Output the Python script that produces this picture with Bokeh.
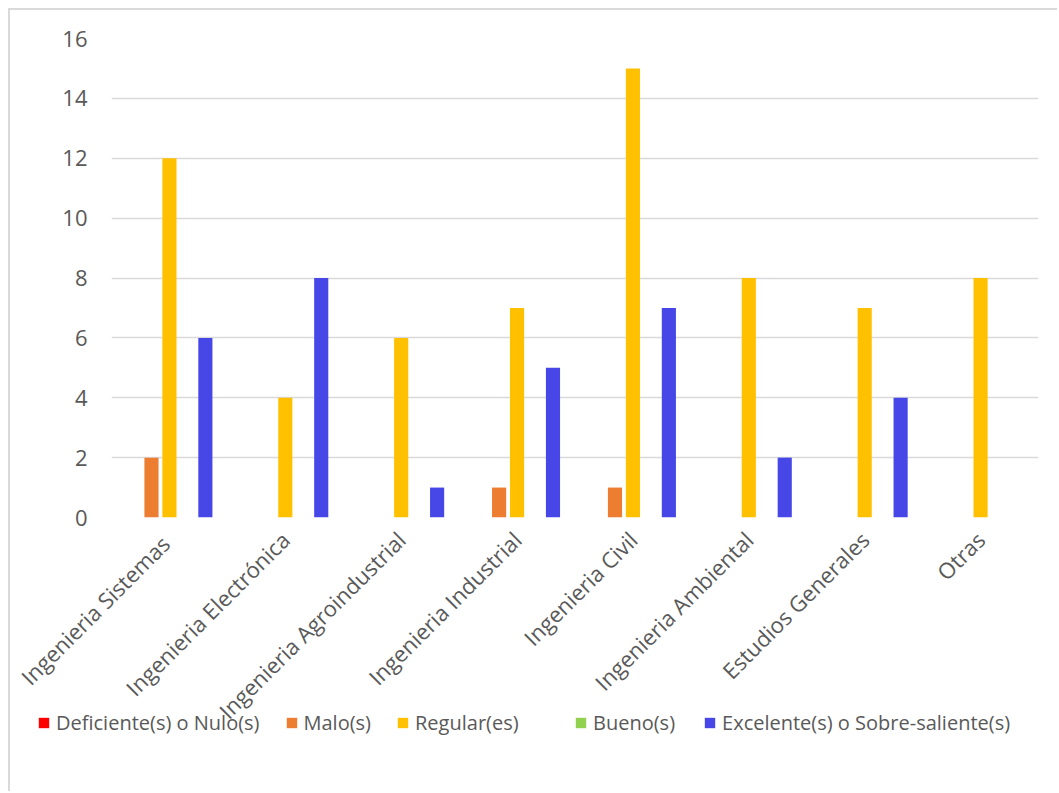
import math
from bokeh.plotting import figure
from bokeh.models import FactorRange, Range1d, Legend, LegendItem, ColumnDataSource, FixedTicker
from bokeh.transform import dodge
from bokeh.embed import file_html
from bokeh.resources import INLINE

categories = ["Ingenieria  Sistemas", "Ingenieria Electrónica", "Ingenieria Agroindustrial",
              "Ingenieria Industrial", "Ingenieria Civil", "Ingenieria Ambiental",
              "Estudios Generales", "Otras"]
deficiente = [0, 0, 0, 0, 0, 0, 0, 0]
malo = [2, 0, 0, 1, 1, 0, 0, 0]
regular = [12, 4, 6, 7, 15, 8, 7, 8]
bueno = [0, 0, 0, 0, 0, 0, 0, 0]
excelente = [6, 8, 1, 5, 7, 2, 4, 0]
series_names = ["Deficiente(s) o Nulo(s)", "Malo(s)", "Regular(es)", "Bueno(s)",
                "Excelente(s) o Sobre-saliente(s)"]
y_ticks = [0, 2, 4, 6, 8, 10, 12, 14, 16]

colors = ["#FF0000", "#ED7D31", "#FFC000", "#92D050", "#4747E8"]
FONT = "Open Sans"
TXT = "#595959"

src = ColumnDataSource(dict(cat=categories, d=deficiente, m=malo, r=regular, b=bueno, e=excelente))

p = figure(x_range=FactorRange(*categories, range_padding=0), y_range=Range1d(0, 16),
           width=1049, height=732, output_backend="svg", toolbar_location=None,
           min_border_left=101, min_border_right=21, min_border_top=28, min_border_bottom=225)
p.styles = {"margin-left": "8px", "margin-top": "8px",
            "border-left": "2px solid #D9D9D9", "border-top": "2px solid #D9D9D9"}
p.outline_line_color = None
p.background_fill_color = "white"
p.border_fill_color = "white"

step = 0.155
w = 0.122
cols = ["d", "m", "r", "b", "e"]
for i, col in enumerate(cols):
    p.vbar(x=dodge("cat", (i - 2) * step, range=p.x_range), top=col, width=w,
           source=src, fill_color=colors[i], line_color=None)

p.xgrid.grid_line_color = None
p.ygrid.grid_line_color = "#D9D9D9"
p.ygrid.grid_line_width = 1.5
p.yaxis.ticker = FixedTicker(ticks=y_ticks)
for ax in (p.xaxis[0], p.yaxis[0]):
    ax.axis_line_color = None
    ax.major_tick_line_color = None
    ax.minor_tick_line_color = None
    ax.major_label_text_font = FONT
    ax.major_label_text_color = TXT
    ax.major_label_text_font_size = "22px"
p.yaxis.major_label_standoff = 18
p.xaxis.major_label_orientation = math.pi / 4
p.xaxis.major_label_standoff = 12

# legend strip below the chart (separate root, overlapping the chart's bottom margin)
lg = figure(width=1049, height=91, output_backend="svg", toolbar_location=None,
            x_axis_type=None, y_axis_type=None, min_border=0,
            x_range=Range1d(0, 1), y_range=Range1d(0, 1))
lg.styles = {"margin-left": "8px", "margin-top": "-40px",
             "border-left": "2px solid #D9D9D9", "position": "relative"}
lg.outline_line_color = None
lg.grid.grid_line_color = None
lg.background_fill_alpha = 0
lg.border_fill_alpha = 0
far = ColumnDataSource(dict(x=[10], top=[1]))
items = []
for i, name in enumerate(series_names):
    r = lg.vbar(x="x", top="top", width=0.1, source=far, fill_color=colors[i], line_color=None)
    items.append(LegendItem(label=name, renderers=[r]))

common = dict(orientation="horizontal", label_text_font=FONT, label_text_color=TXT,
              label_text_font_size="20px", glyph_width=13, glyph_height=13, label_standoff=6,
              background_fill_alpha=0, border_line_color=None, padding=4, margin=0)
legend_a = Legend(items=items[:3], location=(27, 55), spacing=25, **common)
legend_b = Legend(items=items[3:], location=(564, 55), spacing=28, **common)
lg.add_layout(legend_a, "center")
lg.add_layout(legend_b, "center")

open("out.html", "w").write(file_html([p, lg], INLINE))
